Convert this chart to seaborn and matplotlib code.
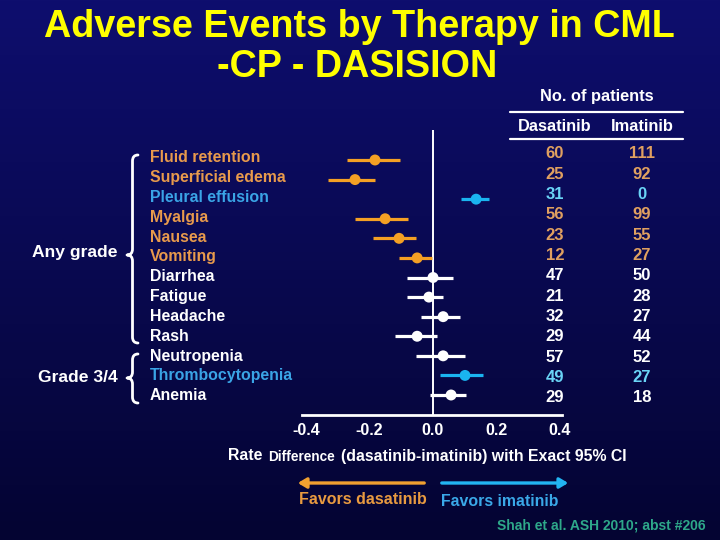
import numpy as np
import pandas as pd
import matplotlib
matplotlib.use("Agg")
import matplotlib.pyplot as plt
from matplotlib.path import Path
from matplotlib.patches import PathPatch, FancyArrowPatch
import seaborn as sns

# ---------------- data ----------------
events = ["Fluid retention", "Superficial edema", "Pleural effusion", "Myalgia",
          "Nausea", "Vomiting", "Diarrhea", "Fatigue", "Headache", "Rash",
          "Neutropenia", "Thrombocytopenia", "Anemia"]
rate_diff = [-0.183, -0.246, 0.136, -0.151, -0.107, -0.050, 0.000, -0.013,
             0.032, -0.050, 0.032, 0.101, 0.057]
ci_low = [-0.271, -0.331, 0.088, -0.246, -0.189, -0.107, -0.082, -0.082,
          -0.038, -0.120, -0.054, 0.022, -0.009]
ci_high = [-0.104, -0.183, 0.177, -0.079, -0.054, -0.003, 0.063, 0.032,
           0.085, 0.013, 0.101, 0.158, 0.104]
n_dasatinib = [60, 25, 31, 56, 23, 12, 47, 21, 32, 29, 57, 49, 29]
n_imatinib = [111, 92, 0, 99, 55, 27, 50, 28, 27, 44, 52, 27, 18]
favors = ["dasatinib", "dasatinib", "imatinib", "dasatinib", "dasatinib",
          "dasatinib", "none", "none", "none", "none", "none", "imatinib", "none"]
xticks = [-0.4, -0.2, 0.0, 0.2, 0.4]
xtick_labels = ["-0.4", "-0.2", "0.0", "0.2", "0.4"]
groups = ["Any grade", "Grade 3/4"]

df = pd.DataFrame({"event": events, "rd": rate_diff, "lo": ci_low, "hi": ci_high,
                   "favors": favors, "pos": np.arange(len(events))})

# ---------------- style ----------------
sns.set_style("white")
plt.rcParams["font.family"] = ["Liberation Sans", "DejaVu Sans"]

mark_col = {"dasatinib": "#f4a024", "imatinib": "#1ab4f0", "none": "#ffffff"}
label_col = {"dasatinib": "#e89a4c", "imatinib": "#3aa4e6", "none": "#ffffff"}
num_col = {"dasatinib": "#e0a060", "imatinib": "#6ad4f6", "none": "#ffffff"}

W, H = 720, 540
fig = plt.figure(figsize=(7.2, 5.4), dpi=100)

# background gradient
bg = fig.add_axes([0, 0, 1, 1], zorder=-10)
grad = np.linspace(0, 1, 256).reshape(-1, 1)
top = np.array([14, 14, 110]) / 255
bot = np.array([4, 4, 50]) / 255
img = top + (bot - top) * grad[..., None]
img = np.repeat(img, 2, axis=1)
bg.imshow(img, aspect="auto", extent=[0, 1, 0, 1])
bg.set_axis_off()


def fx(px):
    return px / W


def fy(py):
    return 1 - py / H


# main forest axes: pixel x 302..562, y 130..415
ax = fig.add_axes([fx(302), fy(415), (562 - 302) / W, (415 - 130) / H])
ax.set_facecolor("none")
ax.patch.set_alpha(0)

ax.hlines(df["pos"], df["lo"], df["hi"], colors=[mark_col[f] for f in df["favors"]],
          lw=2.3, zorder=2)
sns.scatterplot(data=df, x="rd", y="pos", hue="favors", palette=mark_col,
                s=62, edgecolor="none", legend=False, zorder=3, ax=ax)
ax.axvline(0, color="white", lw=1.4, zorder=1)

ax.set_xlim((302 - 433) / 317, (562 - 433) / 317)
ax.set_ylim(12 + 20 / 19.58, -30 / 19.58)
ax.set_xticks(xticks)
ax.set_xticklabels(xtick_labels, color="white", fontsize=11.5, fontweight="bold")
ax.tick_params(axis="x", length=0, pad=6)
ax.set_yticks([])
ax.set_xlabel("")
ax.set_ylabel("")
for s in ["top", "left", "right"]:
    ax.spines[s].set_visible(False)
ax.spines["bottom"].set_color("white")
ax.spines["bottom"].set_linewidth(2)

# ---------------- texts ----------------
fig.text(fx(359), fy(27), "Adverse Events by Therapy in CML", color="#ffff00",
         fontsize=27.2, fontweight="bold", ha="center", va="center")
fig.text(fx(357), fy(67), "-CP - DASISION", color="#ffff00",
         fontsize=27.2, fontweight="bold", ha="center", va="center")

# event labels
for i, (ev, fv) in enumerate(zip(events, favors)):
    fig.text(fx(150), fy(158 + i * 19.8), ev, color=label_col[fv], fontsize=11.4,
             fontweight="bold", ha="left", va="center")

# numbers
for i, (nd, ni, fv) in enumerate(zip(n_dasatinib, n_imatinib, favors)):
    yy = fy(154 + i * 20.3)
    fig.text(fx(555), yy, str(nd), color=num_col[fv], fontsize=12,
             fontweight="bold", ha="center", va="center")
    fig.text(fx(642), yy, str(ni), color=num_col[fv], fontsize=12,
             fontweight="bold", ha="center", va="center")

# header
fig.text(fx(597), fy(96), "No. of patients", color="white", fontsize=11.8,
         fontweight="bold", ha="center", va="center")
fig.text(fx(555), fy(126), "Dasatinib", color="white", fontsize=11.8,
         fontweight="bold", ha="center", va="center")
fig.text(fx(642), fy(126), "Imatinib", color="white", fontsize=11.8,
         fontweight="bold", ha="center", va="center")
for yline in (112, 139):
    fig.add_artist(plt.Line2D([fx(510), fx(683)], [fy(yline), fy(yline)],
                              color="white", lw=1.6))

# group labels and braces
fig.text(fx(118), fy(253), groups[0], color="white", fontsize=12.6,
         fontweight="bold", ha="right", va="center")
fig.text(fx(118), fy(378), groups[1], color="white", fontsize=12.6,
         fontweight="bold", ha="right", va="center")


def brace(top_px, bot_px, tip_px, x_tip=127, x_end=138):
    xm = (x_tip + x_end) / 2
    r = 6
    verts = [(x_end, top_px), (xm, top_px), (xm, top_px + r),
             (xm, tip_px - r),
             (xm, tip_px), (x_tip, tip_px),
             (xm, tip_px), (xm, tip_px + r),
             (xm, bot_px - r),
             (xm, bot_px), (x_end, bot_px)]
    codes = [Path.MOVETO, Path.CURVE3, Path.CURVE3, Path.LINETO,
             Path.CURVE3, Path.CURVE3, Path.CURVE3, Path.CURVE3,
             Path.LINETO, Path.CURVE3, Path.CURVE3]
    verts = [(fx(a), fy(b)) for a, b in verts]
    p = PathPatch(Path(verts, codes), transform=fig.transFigure, fill=False,
                  edgecolor="white", lw=2, capstyle="round", joinstyle="round")
    fig.add_artist(p)


brace(155, 343, 255)
brace(354, 403, 378)

# axis title with smaller "Difference"
fig.text(fx(228), fy(456), "Rate", color="white", fontsize=11.4,
         fontweight="bold", ha="left", va="center")
fig.text(fx(268), fy(457), "Difference", color="white", fontsize=9.8,
         fontweight="bold", ha="left", va="center")
fig.text(fx(341), fy(456), "(dasatinib-imatinib) with Exact 95% CI", color="white",
         fontsize=11.4, fontweight="bold", ha="left", va="center")

# favors arrows
a1 = FancyArrowPatch((fx(427), fy(483)), (fx(295), fy(483)), transform=fig.transFigure,
                     arrowstyle="-|>,head_length=5,head_width=3", color="#f0a030",
                     lw=2.4, mutation_scale=1)
a2 = FancyArrowPatch((fx(439), fy(483)), (fx(571), fy(483)), transform=fig.transFigure,
                     arrowstyle="-|>,head_length=5,head_width=3", color="#22b4f2",
                     lw=2.4, mutation_scale=1)
fig.add_artist(a1)
fig.add_artist(a2)
fig.text(fx(363), fy(500), "Favors dasatinib", color="#e89a40", fontsize=11.5,
         fontweight="bold", ha="center", va="center")
fig.text(fx(500), fy(501), "Favors imatinib", color="#3aa8e8", fontsize=11.4,
         fontweight="bold", ha="center", va="center")

fig.text(fx(706), fy(525), "Shah et al. ASH 2010; abst #206", color="#2ea88a",
         fontsize=10, fontweight="bold", ha="right", va="center")

fig.savefig("out.png", dpi=100)
